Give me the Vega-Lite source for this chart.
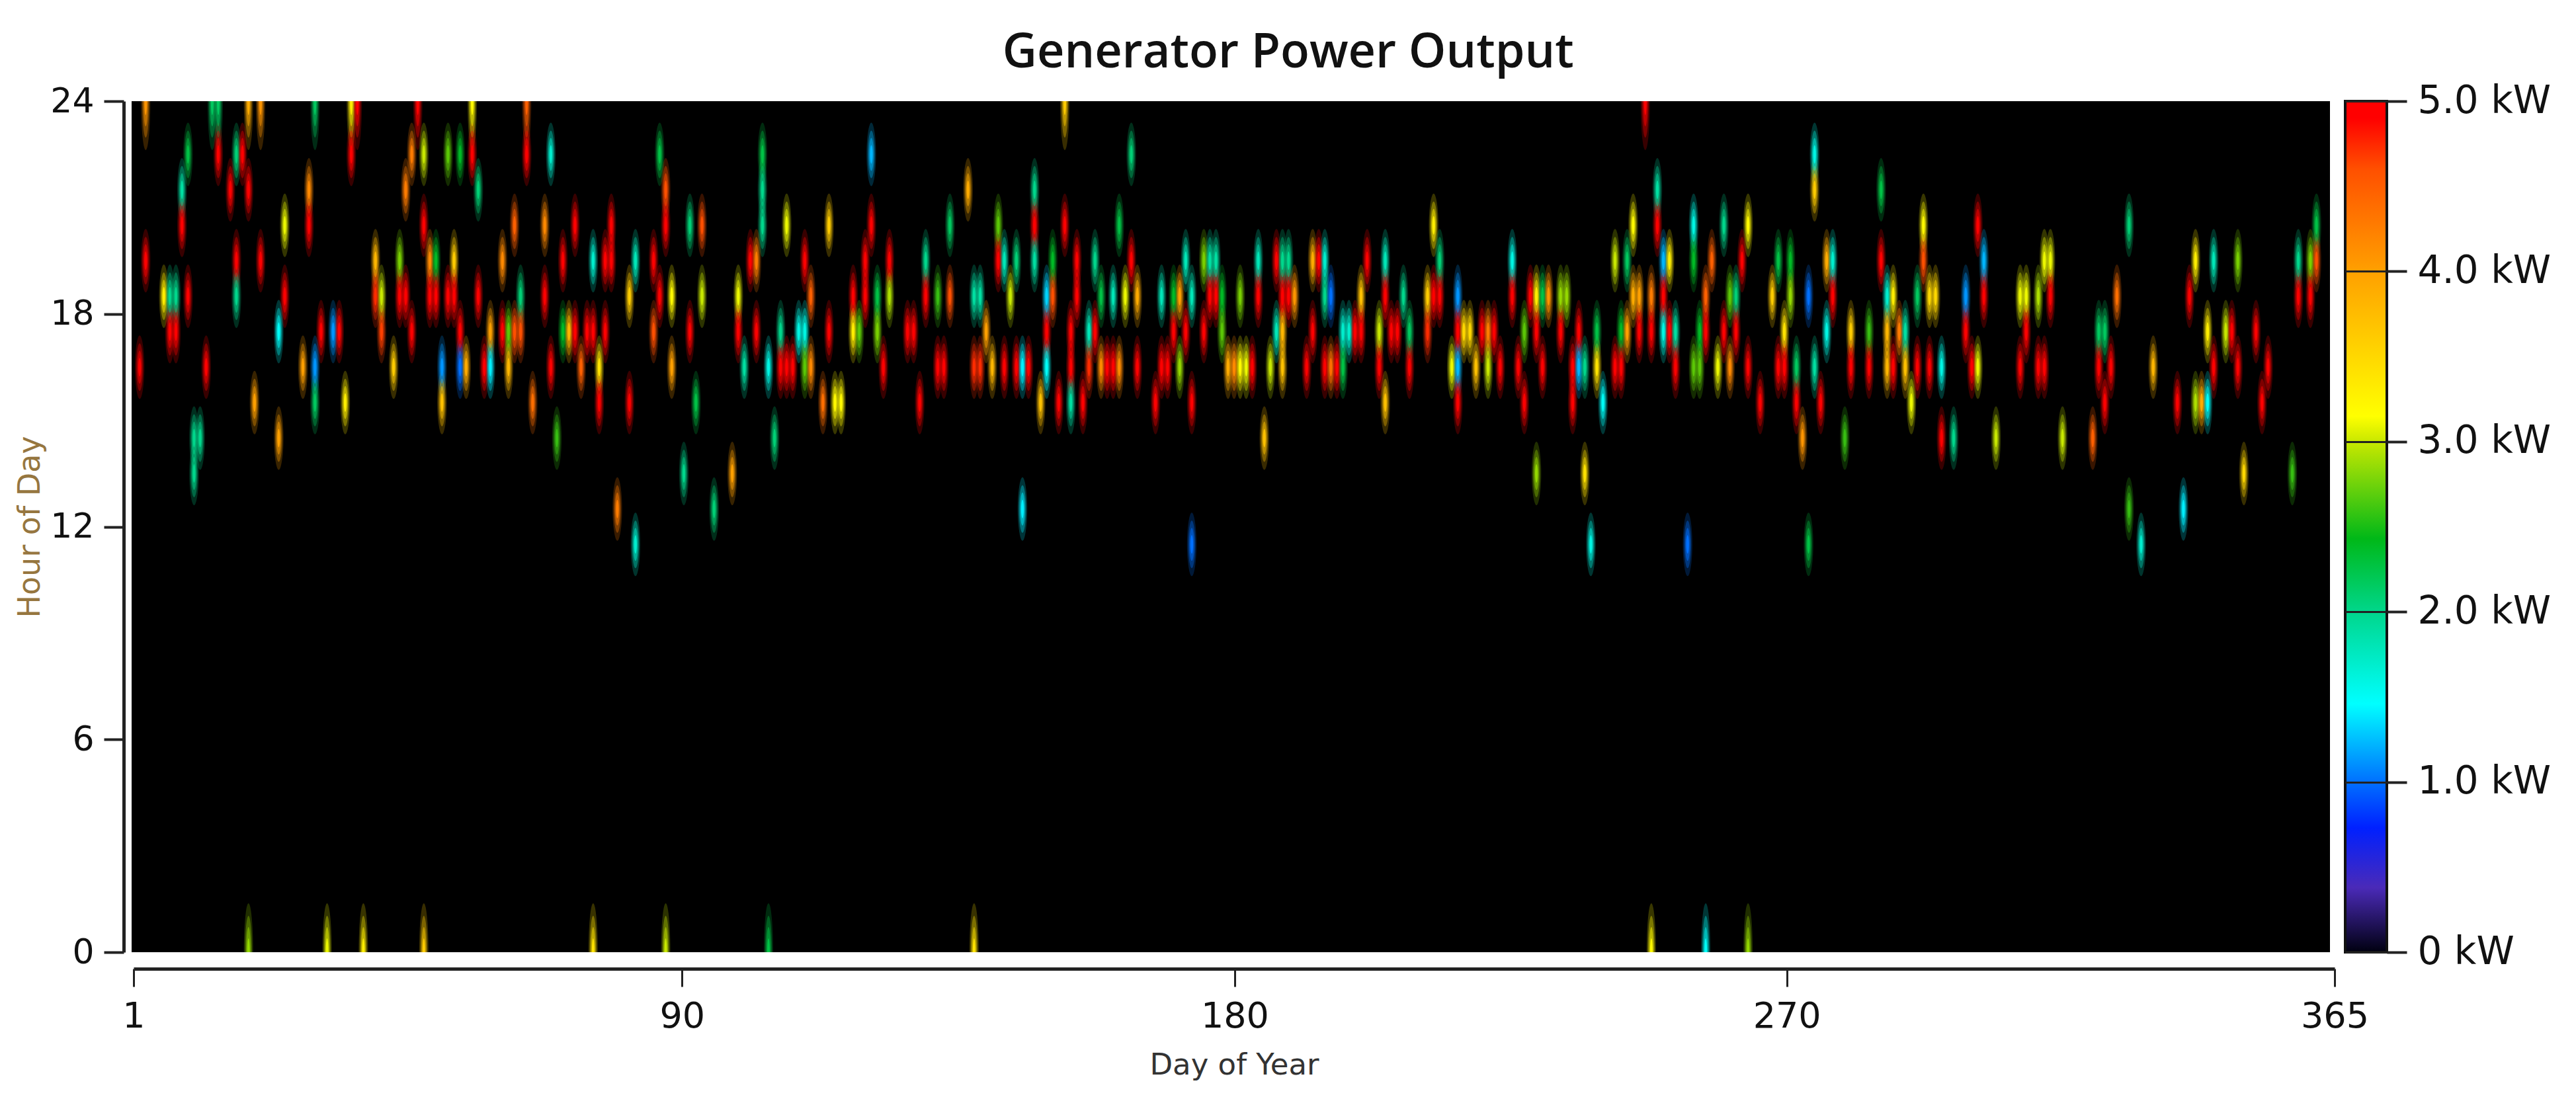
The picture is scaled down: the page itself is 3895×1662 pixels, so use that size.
{
"$schema":"https://vega.github.io/schema/vega-lite/v6.json",
"background":"white",
"autosize":{"type":"pad"},
"padding":{"left":22,"top":44,"right":0,"bottom":30},
"bounds":"flush",
"spacing":23,
"title":{"text":"Generator Power Output","font":"Open Sans","fontWeight":600,"fontSize":72,"color":"#111","anchor":"middle","offset":7,"dx":8},
"config":{"axis":{"labelFont":"DejaVu Sans","titleFont":"DejaVu Sans","labelColor":"#111","tickColor":"#222","domainColor":"#222","grid":false}},
"datasets":{"cells":[
{"day":3,"hour":24,"kw":4.1},{"day":14,"hour":24,"kw":2.2},{"day":15,"hour":24,"kw":2.2},{"day":20,"hour":24,"kw":3.9},{"day":22,"hour":24,"kw":4.1},{"day":31,"hour":24,"kw":2.2},{"day":37,"hour":24,"kw":3.3},{"day":38,"hour":24,"kw":4.9},{"day":48,"hour":24,"kw":4.9},{"day":57,"hour":24,"kw":3.2},{"day":66,"hour":24,"kw":4.5},{"day":155,"hour":24,"kw":3.6},{"day":251,"hour":24,"kw":4.9},
{"day":20,"hour":0,"kw":2.8},{"day":33,"hour":0,"kw":3.1},{"day":39,"hour":0,"kw":3.3},{"day":49,"hour":0,"kw":3.6},{"day":77,"hour":0,"kw":3.4},{"day":89,"hour":0,"kw":3},{"day":106,"hour":0,"kw":2.3},{"day":140,"hour":0,"kw":3.4},{"day":252,"hour":0,"kw":3.2},{"day":261,"hour":0,"kw":1.5},{"day":268,"hour":0,"kw":2.8},
{"day":10,"hour":22.5,"kw":2.3},{"day":15,"hour":22.5,"kw":4.9},{"day":18,"hour":22.5,"kw":2.1},{"day":19,"hour":22.5,"kw":4.9},{"day":37,"hour":22.5,"kw":4.9},{"day":47,"hour":22.5,"kw":4.3},{"day":49,"hour":22.5,"kw":3},{"day":53,"hour":22.5,"kw":2.6},{"day":55,"hour":22.5,"kw":2.4},{"day":57,"hour":22.5,"kw":4.9},{"day":66,"hour":22.5,"kw":4.9},{"day":70,"hour":22.5,"kw":1.7},{"day":88,"hour":22.5,"kw":2.3},{"day":105,"hour":22.5,"kw":2.3},{"day":123,"hour":22.5,"kw":1.2},{"day":166,"hour":22.5,"kw":2.1},{"day":279,"hour":22.5,"kw":1.6},
{"day":9,"hour":21.5,"kw":1.9},{"day":17,"hour":21.5,"kw":4.9},{"day":20,"hour":21.5,"kw":4.9},{"day":30,"hour":21.5,"kw":4.2},{"day":46,"hour":21.5,"kw":4.3},{"day":58,"hour":21.5,"kw":2.1},{"day":89,"hour":21.5,"kw":4.6},{"day":105,"hour":21.5,"kw":2},{"day":139,"hour":21.5,"kw":3.9},{"day":150,"hour":21.5,"kw":2},{"day":253,"hour":21.5,"kw":1.9},{"day":279,"hour":21.5,"kw":3.6},{"day":290,"hour":21.5,"kw":2.3},
{"day":9,"hour":20.5,"kw":4.9},{"day":26,"hour":20.5,"kw":3.1},{"day":30,"hour":20.5,"kw":4.9},{"day":49,"hour":20.5,"kw":4.9},{"day":64,"hour":20.5,"kw":4.5},{"day":69,"hour":20.5,"kw":4.2},{"day":74,"hour":20.5,"kw":4.9},{"day":80,"hour":20.5,"kw":4.9},{"day":89,"hour":20.5,"kw":4.9},{"day":93,"hour":20.5,"kw":2.1},{"day":95,"hour":20.5,"kw":4.6},{"day":105,"hour":20.5,"kw":2},{"day":109,"hour":20.5,"kw":3.1},{"day":116,"hour":20.5,"kw":3.6},{"day":123,"hour":20.5,"kw":4.9},{"day":136,"hour":20.5,"kw":2.2},{"day":144,"hour":20.5,"kw":2.6},{"day":150,"hour":20.5,"kw":4.9},{"day":155,"hour":20.5,"kw":4.9},{"day":164,"hour":20.5,"kw":2.3},{"day":216,"hour":20.5,"kw":3.3},{"day":249,"hour":20.5,"kw":3.2},{"day":253,"hour":20.5,"kw":4.9},{"day":259,"hour":20.5,"kw":1.6},{"day":264,"hour":20.5,"kw":2},{"day":268,"hour":20.5,"kw":3.2},{"day":297,"hour":20.5,"kw":3.2},{"day":306,"hour":20.5,"kw":4.9},{"day":331,"hour":20.5,"kw":2.1},{"day":362,"hour":20.5,"kw":2.3},
{"day":3,"hour":19.5,"kw":4.9},{"day":18,"hour":19.5,"kw":4.9},{"day":22,"hour":19.5,"kw":4.9},{"day":41,"hour":19.5,"kw":3.8},{"day":45,"hour":19.5,"kw":2.7},{"day":50,"hour":19.5,"kw":4.2},{"day":51,"hour":19.5,"kw":2.4},{"day":54,"hour":19.5,"kw":3.6},{"day":62,"hour":19.5,"kw":4.2},{"day":72,"hour":19.5,"kw":4.9},{"day":77,"hour":19.5,"kw":1.7},{"day":79,"hour":19.5,"kw":4.9},{"day":80,"hour":19.5,"kw":4.9},{"day":84,"hour":19.5,"kw":1.8},{"day":87,"hour":19.5,"kw":4.9},{"day":103,"hour":19.5,"kw":4.9},{"day":104,"hour":19.5,"kw":4.3},{"day":112,"hour":19.5,"kw":4.9},{"day":122,"hour":19.5,"kw":4.9},{"day":126,"hour":19.5,"kw":4.9},{"day":132,"hour":19.5,"kw":2},{"day":144,"hour":19.5,"kw":4.9},{"day":145,"hour":19.5,"kw":1.8},{"day":147,"hour":19.5,"kw":2.1},{"day":150,"hour":19.5,"kw":1.9},{"day":153,"hour":19.5,"kw":2.4},{"day":157,"hour":19.5,"kw":4.9},{"day":160,"hour":19.5,"kw":2},{"day":166,"hour":19.5,"kw":4.9},{"day":175,"hour":19.5,"kw":1.8},{"day":178,"hour":19.5,"kw":2.7},{"day":179,"hour":19.5,"kw":1.9},{"day":180,"hour":19.5,"kw":1.9},{"day":187,"hour":19.5,"kw":1.8},{"day":190,"hour":19.5,"kw":4.9},{"day":191,"hour":19.5,"kw":2},{"day":192,"hour":19.5,"kw":2},{"day":196,"hour":19.5,"kw":3.9},{"day":197,"hour":19.5,"kw":4.9},{"day":198,"hour":19.5,"kw":1.7},{"day":205,"hour":19.5,"kw":4.9},{"day":208,"hour":19.5,"kw":1.8},{"day":217,"hour":19.5,"kw":2.1},{"day":229,"hour":19.5,"kw":1.6},{"day":246,"hour":19.5,"kw":3},{"day":248,"hour":19.5,"kw":2.2},{"day":254,"hour":19.5,"kw":1.2},{"day":255,"hour":19.5,"kw":3.3},{"day":259,"hour":19.5,"kw":2.4},{"day":262,"hour":19.5,"kw":4.5},{"day":267,"hour":19.5,"kw":4.9},{"day":273,"hour":19.5,"kw":2.3},{"day":275,"hour":19.5,"kw":2.4},{"day":281,"hour":19.5,"kw":3.9},{"day":282,"hour":19.5,"kw":1.7},{"day":290,"hour":19.5,"kw":4.9},{"day":297,"hour":19.5,"kw":4.6},{"day":307,"hour":19.5,"kw":1.2},{"day":317,"hour":19.5,"kw":3.1},{"day":318,"hour":19.5,"kw":3.1},{"day":342,"hour":19.5,"kw":3.3},{"day":345,"hour":19.5,"kw":1.8},{"day":349,"hour":19.5,"kw":2.7},{"day":359,"hour":19.5,"kw":2},{"day":361,"hour":19.5,"kw":2.7},{"day":362,"hour":19.5,"kw":4.6},
{"day":6,"hour":18.5,"kw":3.3},{"day":7,"hour":18.5,"kw":2},{"day":8,"hour":18.5,"kw":2},{"day":10,"hour":18.5,"kw":4.9},{"day":18,"hour":18.5,"kw":2},{"day":26,"hour":18.5,"kw":4.9},{"day":41,"hour":18.5,"kw":4.8},{"day":42,"hour":18.5,"kw":3},{"day":45,"hour":18.5,"kw":4.9},{"day":46,"hour":18.5,"kw":4.9},{"day":50,"hour":18.5,"kw":4.9},{"day":51,"hour":18.5,"kw":4.9},{"day":53,"hour":18.5,"kw":4.9},{"day":54,"hour":18.5,"kw":4.9},{"day":58,"hour":18.5,"kw":4.9},{"day":65,"hour":18.5,"kw":2.1},{"day":69,"hour":18.5,"kw":4.9},{"day":83,"hour":18.5,"kw":3.6},{"day":88,"hour":18.5,"kw":4.9},{"day":90,"hour":18.5,"kw":3.2},{"day":95,"hour":18.5,"kw":3},{"day":101,"hour":18.5,"kw":3.1},{"day":113,"hour":18.5,"kw":4.5},{"day":120,"hour":18.5,"kw":4.9},{"day":122,"hour":18.5,"kw":4.9},{"day":124,"hour":18.5,"kw":2.3},{"day":126,"hour":18.5,"kw":2.9},{"day":132,"hour":18.5,"kw":4.9},{"day":134,"hour":18.5,"kw":2.5},{"day":136,"hour":18.5,"kw":4.6},{"day":140,"hour":18.5,"kw":1.9},{"day":141,"hour":18.5,"kw":1.9},{"day":146,"hour":18.5,"kw":3},{"day":152,"hour":18.5,"kw":1.3},{"day":153,"hour":18.5,"kw":4.6},{"day":157,"hour":18.5,"kw":4.9},{"day":161,"hour":18.5,"kw":2.3},{"day":163,"hour":18.5,"kw":1.8},{"day":165,"hour":18.5,"kw":3.1},{"day":167,"hour":18.5,"kw":3.9},{"day":171,"hour":18.5,"kw":1.8},{"day":173,"hour":18.5,"kw":2.4},{"day":174,"hour":18.5,"kw":4},{"day":176,"hour":18.5,"kw":1.8},{"day":179,"hour":18.5,"kw":4.9},{"day":180,"hour":18.5,"kw":4.9},{"day":181,"hour":18.5,"kw":2.4},{"day":184,"hour":18.5,"kw":2.7},{"day":187,"hour":18.5,"kw":4.9},{"day":191,"hour":18.5,"kw":4.9},{"day":192,"hour":18.5,"kw":4.9},{"day":193,"hour":18.5,"kw":4.1},{"day":198,"hour":18.5,"kw":2},{"day":199,"hour":18.5,"kw":1},{"day":204,"hour":18.5,"kw":3.7},{"day":208,"hour":18.5,"kw":4.9},{"day":211,"hour":18.5,"kw":2},{"day":215,"hour":18.5,"kw":3.6},{"day":216,"hour":18.5,"kw":4.9},{"day":217,"hour":18.5,"kw":4.9},{"day":220,"hour":18.5,"kw":1.1},{"day":229,"hour":18.5,"kw":4.9},{"day":232,"hour":18.5,"kw":4.9},{"day":233,"hour":18.5,"kw":3.3},{"day":234,"hour":18.5,"kw":2.3},{"day":235,"hour":18.5,"kw":4.1},{"day":237,"hour":18.5,"kw":2.8},{"day":238,"hour":18.5,"kw":2.8},{"day":250,"hour":18.5,"kw":4},{"day":249,"hour":18.5,"kw":3.9},{"day":252,"hour":18.5,"kw":4.3},{"day":254,"hour":18.5,"kw":4.9},{"day":261,"hour":18.5,"kw":4.5},{"day":265,"hour":18.5,"kw":2.6},{"day":266,"hour":18.5,"kw":2.1},{"day":272,"hour":18.5,"kw":3.6},{"day":275,"hour":18.5,"kw":2.8},{"day":278,"hour":18.5,"kw":1},{"day":282,"hour":18.5,"kw":4.9},{"day":291,"hour":18.5,"kw":1.7},{"day":292,"hour":18.5,"kw":3.3},{"day":296,"hour":18.5,"kw":2.2},{"day":298,"hour":18.5,"kw":3.5},{"day":299,"hour":18.5,"kw":3.5},{"day":304,"hour":18.5,"kw":1.1},{"day":307,"hour":18.5,"kw":4.9},{"day":313,"hour":18.5,"kw":3.1},{"day":314,"hour":18.5,"kw":3.1},{"day":316,"hour":18.5,"kw":2.9},{"day":318,"hour":18.5,"kw":4.9},{"day":329,"hour":18.5,"kw":4.4},{"day":341,"hour":18.5,"kw":4.9},{"day":359,"hour":18.5,"kw":4.9},{"day":361,"hour":18.5,"kw":4.9},
{"day":7,"hour":17.5,"kw":4.9},{"day":8,"hour":17.5,"kw":4.9},{"day":25,"hour":17.5,"kw":1.5},{"day":32,"hour":17.5,"kw":4.9},{"day":34,"hour":17.5,"kw":1.1},{"day":35,"hour":17.5,"kw":4.9},{"day":42,"hour":17.5,"kw":4.7},{"day":47,"hour":17.5,"kw":4.9},{"day":55,"hour":17.5,"kw":4.9},{"day":60,"hour":17.5,"kw":4},{"day":62,"hour":17.5,"kw":4.9},{"day":63,"hour":17.5,"kw":2.6},{"day":64,"hour":17.5,"kw":4.6},{"day":65,"hour":17.5,"kw":4.6},{"day":72,"hour":17.5,"kw":2.4},{"day":73,"hour":17.5,"kw":3.8},{"day":74,"hour":17.5,"kw":4.9},{"day":76,"hour":17.5,"kw":4.9},{"day":77,"hour":17.5,"kw":4.9},{"day":79,"hour":17.5,"kw":4.9},{"day":87,"hour":17.5,"kw":4.6},{"day":93,"hour":17.5,"kw":4.9},{"day":101,"hour":17.5,"kw":4.9},{"day":104,"hour":17.5,"kw":4.9},{"day":108,"hour":17.5,"kw":2},{"day":111,"hour":17.5,"kw":1.6},{"day":112,"hour":17.5,"kw":1.6},{"day":116,"hour":17.5,"kw":4.9},{"day":120,"hour":17.5,"kw":3.3},{"day":121,"hour":17.5,"kw":2.6},{"day":124,"hour":17.5,"kw":2.7},{"day":129,"hour":17.5,"kw":4.9},{"day":130,"hour":17.5,"kw":4.9},{"day":142,"hour":17.5,"kw":4},{"day":152,"hour":17.5,"kw":4.9},{"day":156,"hour":17.5,"kw":4.9},{"day":159,"hour":17.5,"kw":1.8},{"day":160,"hour":17.5,"kw":4.9},{"day":173,"hour":17.5,"kw":4.9},{"day":175,"hour":17.5,"kw":4.9},{"day":178,"hour":17.5,"kw":4.9},{"day":181,"hour":17.5,"kw":2.6},{"day":190,"hour":17.5,"kw":1.8},{"day":191,"hour":17.5,"kw":3.8},{"day":196,"hour":17.5,"kw":4.9},{"day":201,"hour":17.5,"kw":1.7},{"day":202,"hour":17.5,"kw":1.7},{"day":203,"hour":17.5,"kw":4.9},{"day":204,"hour":17.5,"kw":4.9},{"day":207,"hour":17.5,"kw":3},{"day":209,"hour":17.5,"kw":4.9},{"day":210,"hour":17.5,"kw":4.9},{"day":212,"hour":17.5,"kw":2.2},{"day":215,"hour":17.5,"kw":4.8},{"day":220,"hour":17.5,"kw":4.9},{"day":221,"hour":17.5,"kw":3.5},{"day":222,"hour":17.5,"kw":3.5},{"day":224,"hour":17.5,"kw":4.9},{"day":225,"hour":17.5,"kw":4.3},{"day":226,"hour":17.5,"kw":4.9},{"day":231,"hour":17.5,"kw":2.6},{"day":233,"hour":17.5,"kw":4.9},{"day":237,"hour":17.5,"kw":4.9},{"day":240,"hour":17.5,"kw":4.9},{"day":243,"hour":17.5,"kw":2.3},{"day":247,"hour":17.5,"kw":2.4},{"day":248,"hour":17.5,"kw":4},{"day":250,"hour":17.5,"kw":4.9},{"day":252,"hour":17.5,"kw":4.9},{"day":254,"hour":17.5,"kw":1.6},{"day":255,"hour":17.5,"kw":4.9},{"day":256,"hour":17.5,"kw":1.9},{"day":260,"hour":17.5,"kw":2.4},{"day":261,"hour":17.5,"kw":4.9},{"day":264,"hour":17.5,"kw":4.9},{"day":266,"hour":17.5,"kw":4.9},{"day":274,"hour":17.5,"kw":3.4},{"day":281,"hour":17.5,"kw":1.6},{"day":285,"hour":17.5,"kw":3.6},{"day":288,"hour":17.5,"kw":2.5},{"day":291,"hour":17.5,"kw":3.8},{"day":293,"hour":17.5,"kw":4.3},{"day":294,"hour":17.5,"kw":1.9},{"day":304,"hour":17.5,"kw":4.9},{"day":314,"hour":17.5,"kw":4.9},{"day":326,"hour":17.5,"kw":2.2},{"day":327,"hour":17.5,"kw":2.2},{"day":344,"hour":17.5,"kw":3.3},{"day":347,"hour":17.5,"kw":3},{"day":348,"hour":17.5,"kw":4.9},{"day":352,"hour":17.5,"kw":4.9},
{"day":2,"hour":16.5,"kw":4.9},{"day":13,"hour":16.5,"kw":4.9},{"day":29,"hour":16.5,"kw":4},{"day":31,"hour":16.5,"kw":1.1},{"day":44,"hour":16.5,"kw":3.6},{"day":52,"hour":16.5,"kw":1.1},{"day":55,"hour":16.5,"kw":1},{"day":56,"hour":16.5,"kw":3.9},{"day":59,"hour":16.5,"kw":4.9},{"day":60,"hour":16.5,"kw":1.4},{"day":63,"hour":16.5,"kw":3.8},{"day":70,"hour":16.5,"kw":4.9},{"day":75,"hour":16.5,"kw":4.5},{"day":78,"hour":16.5,"kw":3.4},{"day":90,"hour":16.5,"kw":4},{"day":102,"hour":16.5,"kw":1.9},{"day":106,"hour":16.5,"kw":1.6},{"day":108,"hour":16.5,"kw":4.9},{"day":109,"hour":16.5,"kw":4.9},{"day":110,"hour":16.5,"kw":4.9},{"day":112,"hour":16.5,"kw":2.6},{"day":113,"hour":16.5,"kw":4.2},{"day":125,"hour":16.5,"kw":4.9},{"day":134,"hour":16.5,"kw":4.9},{"day":135,"hour":16.5,"kw":4.9},{"day":140,"hour":16.5,"kw":4.8},{"day":141,"hour":16.5,"kw":4.8},{"day":143,"hour":16.5,"kw":3.8},{"day":145,"hour":16.5,"kw":4.9},{"day":147,"hour":16.5,"kw":4.9},{"day":148,"hour":16.5,"kw":1.4},{"day":149,"hour":16.5,"kw":4.9},{"day":152,"hour":16.5,"kw":1.5},{"day":156,"hour":16.5,"kw":4.9},{"day":159,"hour":16.5,"kw":4.8},{"day":161,"hour":16.5,"kw":4.2},{"day":162,"hour":16.5,"kw":4.9},{"day":163,"hour":16.5,"kw":4.9},{"day":164,"hour":16.5,"kw":4.2},{"day":167,"hour":16.5,"kw":4.9},{"day":171,"hour":16.5,"kw":4.9},{"day":172,"hour":16.5,"kw":4.9},{"day":174,"hour":16.5,"kw":2.8},{"day":182,"hour":16.5,"kw":3.9},{"day":183,"hour":16.5,"kw":4.2},{"day":184,"hour":16.5,"kw":3.2},{"day":185,"hour":16.5,"kw":3.1},{"day":186,"hour":16.5,"kw":4.9},{"day":189,"hour":16.5,"kw":3},{"day":191,"hour":16.5,"kw":3.7},{"day":195,"hour":16.5,"kw":4.9},{"day":198,"hour":16.5,"kw":4.9},{"day":199,"hour":16.5,"kw":4.4},{"day":200,"hour":16.5,"kw":4.9},{"day":201,"hour":16.5,"kw":2.3},{"day":207,"hour":16.5,"kw":4.9},{"day":212,"hour":16.5,"kw":4.9},{"day":219,"hour":16.5,"kw":3.1},{"day":220,"hour":16.5,"kw":1.2},{"day":223,"hour":16.5,"kw":3.7},{"day":225,"hour":16.5,"kw":3},{"day":227,"hour":16.5,"kw":4.9},{"day":230,"hour":16.5,"kw":4.9},{"day":234,"hour":16.5,"kw":4.9},{"day":239,"hour":16.5,"kw":4.9},{"day":240,"hour":16.5,"kw":1.2},{"day":241,"hour":16.5,"kw":2},{"day":243,"hour":16.5,"kw":3.4},{"day":246,"hour":16.5,"kw":4.9},{"day":247,"hour":16.5,"kw":4.9},{"day":256,"hour":16.5,"kw":4.9},{"day":259,"hour":16.5,"kw":2.6},{"day":260,"hour":16.5,"kw":2.6},{"day":263,"hour":16.5,"kw":3.1},{"day":265,"hour":16.5,"kw":4.2},{"day":268,"hour":16.5,"kw":4.9},{"day":273,"hour":16.5,"kw":4.9},{"day":274,"hour":16.5,"kw":4.9},{"day":276,"hour":16.5,"kw":2.2},{"day":279,"hour":16.5,"kw":1.9},{"day":285,"hour":16.5,"kw":4.9},{"day":288,"hour":16.5,"kw":4.9},{"day":291,"hour":16.5,"kw":3.8},{"day":292,"hour":16.5,"kw":4.9},{"day":294,"hour":16.5,"kw":3.7},{"day":296,"hour":16.5,"kw":4.9},{"day":298,"hour":16.5,"kw":4.9},{"day":300,"hour":16.5,"kw":1.6},{"day":305,"hour":16.5,"kw":4.9},{"day":306,"hour":16.5,"kw":3.1},{"day":313,"hour":16.5,"kw":4.9},{"day":316,"hour":16.5,"kw":4.9},{"day":317,"hour":16.5,"kw":4.9},{"day":326,"hour":16.5,"kw":4.9},{"day":328,"hour":16.5,"kw":4.9},{"day":335,"hour":16.5,"kw":3.8},{"day":345,"hour":16.5,"kw":4.9},{"day":349,"hour":16.5,"kw":4.9},{"day":354,"hour":16.5,"kw":4.9},
{"day":21,"hour":15.5,"kw":4},{"day":31,"hour":15.5,"kw":2.2},{"day":36,"hour":15.5,"kw":3.3},{"day":52,"hour":15.5,"kw":3.7},{"day":67,"hour":15.5,"kw":4.4},{"day":78,"hour":15.5,"kw":4.9},{"day":83,"hour":15.5,"kw":4.9},{"day":94,"hour":15.5,"kw":2.3},{"day":115,"hour":15.5,"kw":4.4},{"day":117,"hour":15.5,"kw":3.2},{"day":118,"hour":15.5,"kw":3.2},{"day":131,"hour":15.5,"kw":4.9},{"day":151,"hour":15.5,"kw":3.7},{"day":154,"hour":15.5,"kw":4.9},{"day":156,"hour":15.5,"kw":1.9},{"day":158,"hour":15.5,"kw":4.9},{"day":170,"hour":15.5,"kw":4.9},{"day":176,"hour":15.5,"kw":4.9},{"day":208,"hour":15.5,"kw":3.7},{"day":220,"hour":15.5,"kw":4.9},{"day":231,"hour":15.5,"kw":4.9},{"day":239,"hour":15.5,"kw":4.9},{"day":244,"hour":15.5,"kw":1.5},{"day":270,"hour":15.5,"kw":4.9},{"day":276,"hour":15.5,"kw":4.9},{"day":280,"hour":15.5,"kw":4.9},{"day":295,"hour":15.5,"kw":3.1},{"day":327,"hour":15.5,"kw":4.9},{"day":339,"hour":15.5,"kw":4.9},{"day":342,"hour":15.5,"kw":2.9},{"day":343,"hour":15.5,"kw":3.9},{"day":344,"hour":15.5,"kw":1.5},{"day":353,"hour":15.5,"kw":4.9},
{"day":11,"hour":14.5,"kw":2},{"day":12,"hour":14.5,"kw":2},{"day":25,"hour":14.5,"kw":4},{"day":71,"hour":14.5,"kw":2.5},{"day":107,"hour":14.5,"kw":2.1},{"day":188,"hour":14.5,"kw":3.7},{"day":277,"hour":14.5,"kw":4.1},{"day":284,"hour":14.5,"kw":2.5},{"day":300,"hour":14.5,"kw":4.9},{"day":302,"hour":14.5,"kw":2},{"day":309,"hour":14.5,"kw":3},{"day":320,"hour":14.5,"kw":3},{"day":325,"hour":14.5,"kw":4.5},
{"day":11,"hour":13.5,"kw":2},{"day":92,"hour":13.5,"kw":2},{"day":100,"hour":13.5,"kw":4},{"day":233,"hour":13.5,"kw":2.8},{"day":241,"hour":13.5,"kw":3.4},{"day":350,"hour":13.5,"kw":3.5},{"day":358,"hour":13.5,"kw":2.5},
{"day":81,"hour":12.5,"kw":4.3},{"day":97,"hour":12.5,"kw":2.1},{"day":148,"hour":12.5,"kw":1.4},{"day":331,"hour":12.5,"kw":2.5},{"day":340,"hour":12.5,"kw":1.4},
{"day":84,"hour":11.5,"kw":1.7},{"day":176,"hour":11.5,"kw":1},{"day":242,"hour":11.5,"kw":1.6},{"day":258,"hour":11.5,"kw":1},{"day":278,"hour":11.5,"kw":2.3},{"day":333,"hour":11.5,"kw":1.7}
],"bar":[{"low":0,"high":5}]},
"hconcat":[
{
"width":3324,"height":1287,
"view":{"fill":"#000000","stroke":null},
"data":{"name":"cells"},
"encoding":{
"x":{"field":"day","type":"quantitative","scale":{"domain":[1,365],"range":[3,3331]},
"axis":{"values":[1,91.7,183.1,274.4,365],"labelExpr":"datum.value<2?'1':datum.value<100?'90':datum.value<200?'180':datum.value<300?'270':'365'","title":"Day of Year","offset":25,"tickSize":27,"tickWidth":3,"domainWidth":5,"labelFontSize":54,"labelPadding":18,"labelFlush":false,"titleFontSize":45,"titleFontWeight":"normal","titleColor":"#333","titlePadding":24}},
"y":{"field":"hour","type":"quantitative","scale":{"domain":[0,24],"nice":false},
"axis":{"values":[0,6,12,18,24],"title":"Hour of Day","offset":12,"tickSize":30,"tickWidth":4,"domainWidth":5,"labelFontSize":52,"labelPadding":15,"titleFontSize":46,"titleFontWeight":"normal","titleColor":"#96763f","titlePadding":6}},
"color":{"field":"kw","type":"quantitative","legend":null,"scale":{"domain":[0,0.38,0.73,1,1.46,1.98,2.43,3,3.15,4,4.6,4.9,5],"range":["#000010","#4a2ab8","#0020ff","#0070ff","#00ffff","#00d890","#00b818","#c8e800","#ffff00","#ffa000","#ff5000","#ff0000","#ff0000"]}},
"shape":{"condition":{"test":"datum.hour==24||datum.hour==0","value":"M0,-1C0.055,-1 0.095,-0.5 0.095,0C0.095,0.5 0.055,1 0,1C-0.055,1 -0.095,0.5 -0.095,0C-0.095,-0.5 -0.055,-1 0,-1Z"},"value":"M0,-1C0.08,-1 0.15,-0.5 0.15,0C0.15,0.5 0.08,1 0,1C-0.08,1 -0.15,0.5 -0.15,0C-0.15,-0.5 -0.08,-1 0,-1Z"}
},
"layer":[
{"mark":{"type":"point","filled":true,"clip":true,"opacity":0.22,"strokeWidth":0},"encoding":{"size":{"condition":{"test":"datum.hour==24||datum.hour==0","value":21904},"value":9216}}},
{"mark":{"type":"point","filled":true,"clip":true,"opacity":0.35,"strokeWidth":0},"encoding":{"size":{"condition":{"test":"datum.hour==24||datum.hour==0","value":12100},"value":5184}}},
{"mark":{"type":"point","filled":true,"clip":true,"opacity":0.5,"strokeWidth":0},"encoding":{"size":{"condition":{"test":"datum.hour==24||datum.hour==0","value":5776},"value":2500}}},
{"mark":{"type":"point","filled":true,"clip":true,"opacity":1,"strokeWidth":0},"encoding":{"size":{"condition":{"test":"datum.hour==24||datum.hour==0","value":1764},"value":784}}}
]
},
{
"width":63,"height":1287,
"view":{"stroke":null},
"data":{"name":"bar"},
"mark":{"type":"rect","stroke":"#111","strokeWidth":4,"color":{"gradient":"linear","x1":0,"y1":1,"x2":0,"y2":0,"stops":[
{"offset":0,"color":"#000010"},{"offset":0.076,"color":"#4a2ab8"},{"offset":0.146,"color":"#0020ff"},{"offset":0.2,"color":"#0070ff"},{"offset":0.292,"color":"#00ffff"},{"offset":0.396,"color":"#00d890"},{"offset":0.486,"color":"#00b818"},{"offset":0.6,"color":"#c8e800"},{"offset":0.63,"color":"#ffff00"},{"offset":0.8,"color":"#ffa000"},{"offset":0.92,"color":"#ff5000"},{"offset":0.98,"color":"#ff0000"},{"offset":1,"color":"#ff0000"}]}},
"encoding":{
"y":{"field":"low","type":"quantitative","scale":{"domain":[0,5],"nice":false},
"axis":{"orient":"right","values":[0,1,2,3,4,5],"title":null,"labelExpr":"datum.value==0?'0 kW':format(datum.value,'.1f')+' kW'","labelLimit":400,"tickSize":30,"tickWidth":4,"domain":false,"grid":true,"gridColor":"#222","gridWidth":3,"zindex":1,"labelFontSize":58,"labelPadding":16}},
"y2":{"field":"high"}
}
}
]
}
